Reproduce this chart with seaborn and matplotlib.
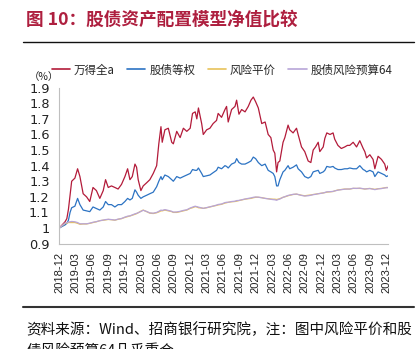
import pandas as pd
import matplotlib
matplotlib.use('Agg')
import matplotlib.pyplot as plt
import seaborn as sns
from matplotlib.lines import Line2D

sns.set_style('white')
plt.rcParams['font.family'] = ['Noto Sans CJK SC', 'DejaVu Sans']
plt.rcParams['axes.unicode_minus'] = False

title_text = '图 10：股债资产配置模型净值比较'
note_line1 = '资料来源：Wind、招商银行研究院，注：图中风险平价和股'
note_line2 = '债风险预算64几乎重合'
unit_label = '（%）'

series_names = ['万得全a', '股债等权', '风险平价', '股债风险预算64']
series_colors = ['#B31B3A', '#2C73C3', '#E8C25A', '#B8A5D8']

dates = [
    '2018-12-31', '2019-02-01', '2019-02-11', '2019-02-20', '2019-03-01', '2019-03-10', '2019-03-28', '2019-04-12', '2019-04-25', '2019-05-13',
    '2019-06-01', '2019-06-19', '2019-07-07', '2019-07-26', '2019-08-14', '2019-09-02', '2019-09-15', '2019-09-30', '2019-10-18', '2019-11-06',
    '2019-11-24', '2019-12-13', '2020-01-01', '2020-01-16', '2020-01-29', '2020-02-11', '2020-02-26', '2020-03-06', '2020-03-15', '2020-03-30',
    '2020-04-12', '2020-05-01', '2020-05-19', '2020-06-07', '2020-06-26', '2020-07-08', '2020-07-20', '2020-07-27', '2020-08-11', '2020-08-30',
    '2020-09-18', '2020-09-27', '2020-10-16', '2020-11-04', '2020-11-22', '2020-12-11', '2020-12-30', '2021-01-12', '2021-01-27', '2021-02-05',
    '2021-02-14', '2021-03-04', '2021-03-13', '2021-04-01', '2021-04-19', '2021-05-07', '2021-05-26', '2021-06-04', '2021-06-23', '2021-07-12',
    '2021-07-21', '2021-07-30', '2021-08-18', '2021-09-06', '2021-09-15', '2021-09-28', '2021-10-13', '2021-11-01', '2021-11-19', '2021-12-04',
    '2021-12-17', '2021-12-30', '2022-01-14', '2022-02-02', '2022-02-21', '2022-03-10', '2022-03-25', '2022-04-07', '2022-04-16', '2022-04-26',
    '2022-05-04', '2022-05-14', '2022-06-01', '2022-06-11', '2022-06-29', '2022-07-08', '2022-07-27', '2022-08-15', '2022-08-24', '2022-09-12',
    '2022-09-30', '2022-10-19', '2022-11-03', '2022-11-16', '2022-11-29', '2022-12-14', '2022-12-23', '2023-01-11', '2023-01-20', '2023-01-31',
    '2023-02-18', '2023-03-07', '2023-03-16', '2023-04-03', '2023-04-22', '2023-05-11', '2023-05-26', '2023-06-08', '2023-06-27', '2023-07-16',
    '2023-08-03', '2023-08-22', '2023-08-31', '2023-09-10', '2023-09-28', '2023-10-16', '2023-10-26', '2023-11-13', '2023-12-02', '2023-12-20',
    '2023-12-29', '2024-01-08',
]

wind_all_a = [
    1.00, 1.04, 1.06, 1.12, 1.21, 1.30, 1.32, 1.38, 1.33, 1.22,
    1.20, 1.17, 1.26, 1.24, 1.19, 1.24, 1.31, 1.26, 1.27, 1.26,
    1.25, 1.28, 1.33, 1.38, 1.31, 1.33, 1.41, 1.39, 1.31, 1.24,
    1.27, 1.29, 1.31, 1.35, 1.40, 1.54, 1.65, 1.55, 1.63, 1.64,
    1.55, 1.54, 1.62, 1.58, 1.64, 1.62, 1.64, 1.735, 1.745, 1.70,
    1.77, 1.67, 1.60, 1.63, 1.64, 1.67, 1.69, 1.735, 1.71, 1.76,
    1.78, 1.68, 1.76, 1.78, 1.82, 1.73, 1.76, 1.745, 1.78, 1.82,
    1.84, 1.81, 1.77, 1.67, 1.68, 1.60, 1.58, 1.50, 1.48, 1.36,
    1.42, 1.43, 1.55, 1.58, 1.66, 1.63, 1.61, 1.64, 1.60, 1.52,
    1.49, 1.43, 1.42, 1.50, 1.52, 1.55, 1.49, 1.52, 1.575, 1.61,
    1.60, 1.61, 1.57, 1.53, 1.51, 1.52, 1.53, 1.53, 1.55, 1.52,
    1.56, 1.51, 1.49, 1.45, 1.47, 1.44, 1.38, 1.46, 1.44, 1.41,
    1.37, 1.40,
]

equal_weight = [
    1.00, 1.02, 1.03, 1.05, 1.10, 1.13, 1.14, 1.19, 1.15, 1.115,
    1.11, 1.105, 1.135, 1.125, 1.115, 1.135, 1.17, 1.15, 1.15, 1.135,
    1.15, 1.15, 1.17, 1.19, 1.18, 1.19, 1.245, 1.23, 1.21, 1.19,
    1.20, 1.21, 1.22, 1.23, 1.265, 1.30, 1.33, 1.31, 1.34, 1.33,
    1.31, 1.30, 1.33, 1.32, 1.33, 1.34, 1.35, 1.375, 1.37, 1.37,
    1.385, 1.35, 1.33, 1.335, 1.34, 1.355, 1.37, 1.39, 1.38, 1.40,
    1.395, 1.385, 1.41, 1.42, 1.445, 1.42, 1.41, 1.41, 1.42, 1.43,
    1.455, 1.445, 1.42, 1.40, 1.41, 1.37, 1.36, 1.35, 1.33, 1.27,
    1.27, 1.31, 1.36, 1.37, 1.40, 1.38, 1.39, 1.405, 1.38, 1.36,
    1.33, 1.32, 1.33, 1.36, 1.365, 1.37, 1.35, 1.36, 1.37, 1.395,
    1.39, 1.395, 1.385, 1.375, 1.375, 1.38, 1.38, 1.385, 1.38, 1.38,
    1.40, 1.375, 1.37, 1.36, 1.37, 1.36, 1.33, 1.36, 1.35, 1.34,
    1.33, 1.335,
]

risk_parity = [
    1.00, 1.03, 1.032, 1.035, 1.035, 1.035, 1.035, 1.03, 1.024, 1.026,
    1.026, 1.03, 1.035, 1.04, 1.047, 1.05, 1.052, 1.055, 1.053, 1.05,
    1.056, 1.06, 1.068, 1.073, 1.077, 1.082, 1.088, 1.092, 1.098, 1.108,
    1.115, 1.105, 1.095, 1.093, 1.098, 1.103, 1.11, 1.11, 1.115, 1.11,
    1.105, 1.10, 1.10, 1.105, 1.11, 1.115, 1.126, 1.13, 1.137, 1.135,
    1.13, 1.128, 1.126, 1.13, 1.135, 1.14, 1.145, 1.148, 1.152, 1.16,
    1.162, 1.165, 1.168, 1.17, 1.172, 1.176, 1.18, 1.185, 1.188, 1.19,
    1.194, 1.197, 1.197, 1.195, 1.19, 1.188, 1.186, 1.185, 1.185, 1.183,
    1.185, 1.188, 1.197, 1.20, 1.207, 1.21, 1.215, 1.217, 1.215, 1.21,
    1.207, 1.21, 1.212, 1.215, 1.217, 1.22, 1.222, 1.225, 1.227, 1.23,
    1.232, 1.234, 1.238, 1.244, 1.247, 1.25, 1.25, 1.25, 1.254, 1.254,
    1.254, 1.252, 1.25, 1.252, 1.254, 1.25, 1.248, 1.252, 1.254, 1.258,
    1.26, 1.26,
]

risk_budget_64 = [
    1.00, 1.032, 1.035, 1.038, 1.04, 1.042, 1.04, 1.035, 1.027, 1.027,
    1.027, 1.031, 1.037, 1.041, 1.047, 1.051, 1.054, 1.056, 1.054, 1.051,
    1.057, 1.061, 1.07, 1.076, 1.078, 1.084, 1.091, 1.094, 1.098, 1.106,
    1.114, 1.106, 1.097, 1.095, 1.10, 1.107, 1.115, 1.113, 1.118, 1.113,
    1.107, 1.102, 1.103, 1.107, 1.113, 1.117, 1.128, 1.134, 1.14, 1.137,
    1.134, 1.129, 1.126, 1.131, 1.136, 1.141, 1.147, 1.151, 1.154, 1.163,
    1.165, 1.165, 1.17, 1.172, 1.176, 1.177, 1.181, 1.186, 1.19, 1.193,
    1.197, 1.199, 1.198, 1.194, 1.19, 1.187, 1.184, 1.182, 1.181, 1.178,
    1.182, 1.186, 1.197, 1.201, 1.209, 1.211, 1.216, 1.218, 1.215, 1.209,
    1.205, 1.207, 1.21, 1.214, 1.216, 1.22, 1.221, 1.225, 1.228, 1.232,
    1.233, 1.235, 1.238, 1.243, 1.246, 1.249, 1.25, 1.25, 1.255, 1.254,
    1.256, 1.252, 1.25, 1.251, 1.253, 1.249, 1.246, 1.251, 1.253, 1.257,
    1.258, 1.259,
]

y_ticks = [0.9, 1.0, 1.1, 1.2, 1.3, 1.4, 1.5, 1.6, 1.7, 1.8, 1.9]
x_tick_dates = pd.date_range('2018-12-31', '2023-12-31', freq='QE-DEC')

wide = pd.DataFrame({
    'date': pd.to_datetime(dates),
    series_names[0]: wind_all_a,
    series_names[1]: equal_weight,
    series_names[2]: risk_parity,
    series_names[3]: risk_budget_64,
})
long = wide.melt(id_vars='date', var_name='series', value_name='value')

W, H = 419, 349
fig = plt.figure(figsize=(W / 100, H / 100), dpi=100)
fig.patch.set_facecolor('white')

ax_left, ax_right, ax_top, ax_bottom = 59.3, 388.3, 87.7, 243.6
ax = fig.add_axes([ax_left / W, (H - ax_bottom) / H, (ax_right - ax_left) / W, (ax_bottom - ax_top) / H])

palette = dict(zip(series_names, series_colors))
sns.lineplot(data=long, x='date', y='value', hue='series', hue_order=series_names,
             palette=palette, linewidth=0.9, estimator=None, sort=False,
             legend=False, ax=ax)

ax.set_xlim(pd.Timestamp('2018-12-31'), pd.Timestamp('2024-01-09'))
ax.set_ylim(0.9, 1.9)
ax.set_xlabel('')
ax.set_ylabel('')
ax.set_xticks(x_tick_dates)
ax.set_xticklabels([d.strftime('%Y-%m') for d in x_tick_dates], rotation=90,
                   fontsize=8, family=['Liberation Sans', 'DejaVu Sans'], color='#222222')
ax.set_yticks(y_ticks)
ax.set_yticklabels([f'{v:g}' for v in y_ticks], fontsize=9.3,
                   family=['DejaVu Sans'], color='#222222')
for side in ['top', 'right']:
    ax.spines[side].set_visible(False)
for side in ['left', 'bottom']:
    ax.spines[side].set_color('#BFBFBF')
    ax.spines[side].set_linewidth(0.8)
ax.tick_params(axis='x', direction='out', length=4, width=0.8, color='#BFBFBF', pad=2)
ax.tick_params(axis='y', direction='out', length=3, width=0.8, color='#BFBFBF', pad=4)
ax.grid(False)
ax.set_facecolor('white')

handles = [Line2D([0], [0], color=c, lw=1.2) for c in series_colors]
fig.legend(handles, series_names, loc='center', bbox_to_anchor=(222 / W, (H - 70) / H),
           ncol=4, frameon=False, fontsize=8.3, handlelength=1.6, handletextpad=0.35,
           columnspacing=1.05, borderaxespad=0, borderpad=0)

fig.text(44 / W, (H - 77) / H, unit_label, fontsize=7.5, ha='center', va='center', color='#222222')

fig.text(26 / W, (H - 20) / H, title_text, fontsize=12.7, fontweight='bold',
         color='#AE1F3F', ha='left', va='center')
fig.add_artist(Line2D([22.7 / W, 414 / W], [(H - 42.3) / H] * 2, color='#111111', lw=1.0))
fig.add_artist(Line2D([22.7 / W, 414 / W], [(H - 307) / H] * 2, color='#333333', lw=1.5))

fig.text(26 / W, (H - 330) / H, note_line1, fontsize=10.5, ha='left', va='center', color='#111111')
fig.text(26 / W, (H - 345) / H, note_line2, fontsize=10.5, ha='left', va='top', color='#111111')

fig.savefig('out.png', dpi=100, facecolor='white')
